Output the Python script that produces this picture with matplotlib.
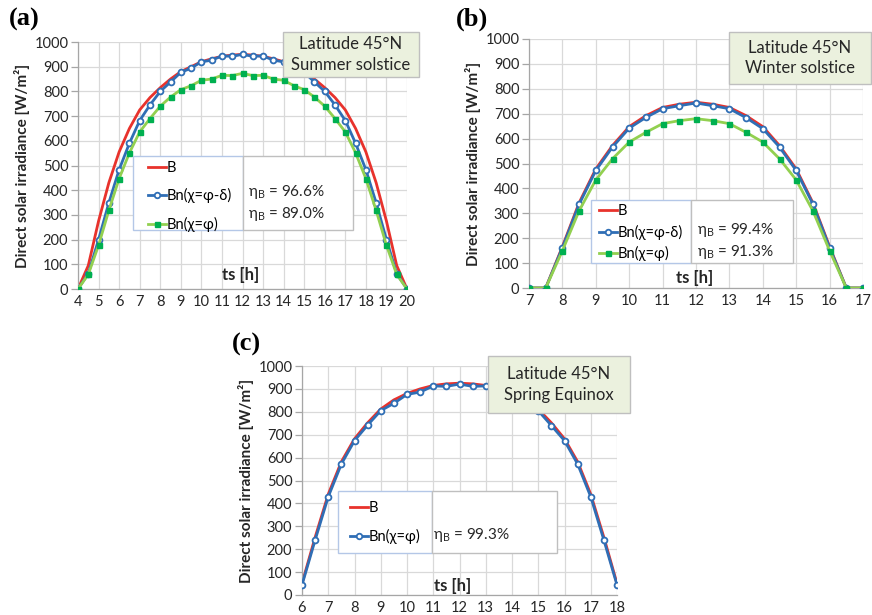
import matplotlib
matplotlib.use("Agg")
import matplotlib.pyplot as plt
from matplotlib.patches import Rectangle
from matplotlib.lines import Line2D

plt.rcParams["font.family"] = ["Lato", "DejaVu Sans"]
plt.rcParams["mathtext.fontset"] = "custom"
plt.rcParams["mathtext.rm"] = "Lato"

W, H = 872, 615

# ---- data -------------------------------------------------------------
ts_a = [4, 4.5, 5, 5.5, 6, 6.5, 7, 7.5, 8, 8.5, 9, 9.5, 10, 10.5, 11, 11.5, 12,
        12.5, 13, 13.5, 14, 14.5, 15, 15.5, 16, 16.5, 17, 17.5, 18, 18.5, 19, 19.5, 20]
B_a = [0, 95, 275, 430, 555, 650, 725, 775, 815, 850, 880, 900, 920, 932, 942, 947, 950,
       947, 942, 932, 920, 900, 880, 850, 815, 775, 725, 650, 555, 430, 275, 95, 0]
Bn_tilt_a = [0, 62, 200, 349, 483, 590, 682, 745, 800, 838, 877, 894, 920, 926, 944, 942, 950,
             942, 944, 926, 920, 894, 877, 838, 800, 745, 682, 590, 483, 349, 200, 62, 0]
Bn_lat_a = [0, 59, 177, 318, 447, 551, 636, 690, 740, 777, 807, 823, 845, 850, 865, 864, 873,
            864, 865, 850, 845, 823, 807, 777, 740, 690, 636, 551, 447, 318, 177, 59, 0]

ts_b = [7, 7.5, 8, 8.5, 9, 9.5, 10, 10.5, 11, 11.5, 12,
        12.5, 13, 13.5, 14, 14.5, 15, 15.5, 16, 16.5, 17]
B_b = [0, 0, 166, 342, 478, 572, 648, 692, 725, 738, 746,
       738, 725, 692, 648, 572, 478, 342, 166, 0, 0]
Bn_tilt_b = [0, 0, 162, 336, 472, 566, 642, 685, 720, 732, 743,
             732, 720, 684, 640, 566, 472, 337, 162, 0, 0]
Bn_lat_b = [0, 0, 150, 310, 434, 519, 586, 625, 660, 672, 680,
            672, 660, 625, 586, 519, 434, 310, 150, 0, 0]

ts_c = [6, 6.5, 7, 7.5, 8, 8.5, 9, 9.5, 10, 10.5, 11, 11.5, 12,
        12.5, 13, 13.5, 14, 14.5, 15, 15.5, 16, 16.5, 17, 17.5, 18]
B_c = [50, 252, 440, 582, 682, 752, 812, 852, 880, 900, 915, 922, 925,
       922, 915, 900, 880, 852, 812, 752, 682, 582, 440, 252, 50]
Bn_lat_c = [44, 240, 429, 572, 674, 742, 805, 837, 876, 886, 913, 911, 921,
            911, 913, 886, 876, 837, 805, 740, 674, 572, 429, 240, 44]

RED = "#E8322C"
BLUE = "#2F6EB5"
GREEN_LINE = "#92D050"
GREEN_MK = "#00B050"
GRID = "#D9D9D9"
TXT = "#262626"


def fx(x):
    return x / W


def fy(y):
    return 1 - y / H


def make_axes(fig, left, top, right, bottom):
    return fig.add_axes([fx(left), fy(bottom), fx(right) - fx(left), fy(top) - fy(bottom)])


def style_axes(ax, xmin, xmax):
    ax.set_xlim(xmin, xmax)
    ax.set_ylim(0, 1000)
    ax.set_xticks(range(xmin, xmax + 1))
    ax.set_yticks(range(0, 1001, 100))
    ax.grid(True, color=GRID, lw=0.9)
    ax.set_axisbelow(True)
    for s in ["top", "right"]:
        ax.spines[s].set_visible(False)
    for s in ["left", "bottom"]:
        ax.spines[s].set_color("#A6A6A6")
        ax.spines[s].set_linewidth(0.9)
    ax.tick_params(axis="both", labelsize=10.5, colors="#A6A6A6", labelcolor=TXT,
                   length=5, width=0.9, pad=2)
    ax.tick_params(axis="x", length=0, pad=4)
    ax.set_ylabel("Direct solar irradiance [W/m²]", fontsize=11,
                  fontweight="bold", color=TXT, labelpad=3)


def plot_tilt(ax, ts, vals):
    ax.plot(ts, vals, color=BLUE, lw=2.0, marker="o", ms=4.2,
            mfc="white", mec=BLUE, mew=1.3, zorder=3)


def plot_lat(ax, ts, vals):
    ax.plot(ts, vals, color=GREEN_LINE, lw=2.0, marker="s", ms=3.6,
            mfc=GREEN_MK, mec=GREEN_MK, zorder=4)


def info_box(fig, left, top, right, bottom, text):
    fig.patches.append(Rectangle((fx(left), fy(bottom)), fx(right) - fx(left),
                                 fy(top) - fy(bottom), transform=fig.transFigure,
                                 facecolor="#EBF1DE", edgecolor="#BFBFBF", lw=1, zorder=10))
    fig.text(fx((left + right) / 2), fy((top + bottom) / 2), text, ha="center",
             va="center", fontsize=12, color=TXT, linespacing=1.35, zorder=11)


def legend_boxes(fig, left, top, mid, right, bottom):
    fig.patches.append(Rectangle((fx(left), fy(bottom)), fx(mid) - fx(left),
                                 fy(top) - fy(bottom), transform=fig.transFigure,
                                 facecolor="white", edgecolor="#B4C7E7", lw=1, zorder=8))
    fig.patches.append(Rectangle((fx(mid), fy(bottom)), fx(right) - fx(mid),
                                 fy(top) - fy(bottom), transform=fig.transFigure,
                                 facecolor="white", edgecolor="#BFBFBF", lw=1, zorder=8))


def eta(fig, x, y, value):
    fig.text(fx(x), fy(y), r"η$_\mathregular{B}$ = " + value, ha="left", va="center",
             fontsize=11, color=TXT, zorder=12)


def legend(fig, handles, labels, x, y, spacing):
    leg = fig.legend(handles, labels, loc="upper left", bbox_to_anchor=(fx(x), fy(y)),
                     frameon=False, fontsize=10.5, handlelength=1.2, handletextpad=0.1,
                     labelspacing=spacing, borderaxespad=0, borderpad=0)
    leg.set_zorder(12)


h_red = Line2D([], [], color=RED, lw=2.0)
h_blue = Line2D([], [], color=BLUE, lw=2.0, marker="o", ms=4, mfc="white", mec=BLUE, mew=1.3)
h_green = Line2D([], [], color=GREEN_LINE, lw=2.0, marker="s", ms=3.6, mfc=GREEN_MK, mec=GREEN_MK)

fig = plt.figure(figsize=(W / 100, H / 100), dpi=100)

# ---- (a) summer solstice ----
ax_a = make_axes(fig, 78, 42, 407, 289)
style_axes(ax_a, 4, 20)
ax_a.plot(ts_a, B_a, color=RED, lw=2.0, zorder=2)
plot_tilt(ax_a, ts_a, Bn_tilt_a)
plot_lat(ax_a, ts_a, Bn_lat_a)
fig.text(fx(241), fy(275), "ts [h]", ha="center", va="center", fontsize=12,
         fontweight="bold", color=TXT)
legend_boxes(fig, 133, 156, 243, 353, 230)
legend(fig, [h_red, h_blue, h_green], ["B", "Bn(χ=φ-δ)", "Bn(χ=φ)"], 148, 161, 0.92)
eta(fig, 248, 192, "96.6%")
eta(fig, 248, 214, "89.0%")
info_box(fig, 283, 32, 419, 77, "Latitude 45°N\nSummer solstice")
fig.text(fx(9), fy(19), "(a)", ha="left", va="center", fontsize=19,
         fontweight="bold", family="Liberation Serif")

# ---- (b) winter solstice ----
ax_b = make_axes(fig, 529, 39, 863, 288)
style_axes(ax_b, 7, 17)
ax_b.plot(ts_b, B_b, color=RED, lw=2.0, zorder=2)
plot_tilt(ax_b, ts_b, Bn_tilt_b)
plot_lat(ax_b, ts_b, Bn_lat_b)
fig.text(fx(695), fy(278), "ts [h]", ha="center", va="center", fontsize=12,
         fontweight="bold", color=TXT)
legend_boxes(fig, 591, 200, 691, 793, 263)
legend(fig, [h_red, h_blue, h_green], ["B", "Bn(χ=φ-δ)", "Bn(χ=φ)"], 599, 204, 0.45)
eta(fig, 697, 230, "99.4%")
eta(fig, 697, 252, "91.3%")
info_box(fig, 729, 32, 871, 84, "Latitude 45°N\nWinter solstice")
fig.text(fx(456), fy(19), "(b)", ha="left", va="center", fontsize=19,
         fontweight="bold", family="Liberation Serif")

# ---- (c) spring equinox ----
ax_c = make_axes(fig, 302, 366, 617, 595)
style_axes(ax_c, 6, 18)
ax_c.plot(ts_c, B_c, color=RED, lw=2.0, zorder=2)
ax_c.plot(ts_c, Bn_lat_c, color=BLUE, lw=2.0, marker="o", ms=4.2,
          mfc="white", mec=BLUE, mew=1.3, zorder=3)
fig.text(fx(453), fy(586), "ts [h]", ha="center", va="center", fontsize=12,
         fontweight="bold", color=TXT)
legend_boxes(fig, 338, 491, 432, 557, 553)
legend(fig, [h_red, h_blue], ["B", "Bn(χ=φ)"], 350, 501, 0.93)
eta(fig, 433, 535, "99.3%")
info_box(fig, 488, 356, 630, 413, "Latitude 45°N\nSpring Equinox")
fig.text(fx(232), fy(344), "(c)", ha="left", va="center", fontsize=19,
         fontweight="bold", family="Liberation Serif")

fig.savefig("out.png", dpi=100)
